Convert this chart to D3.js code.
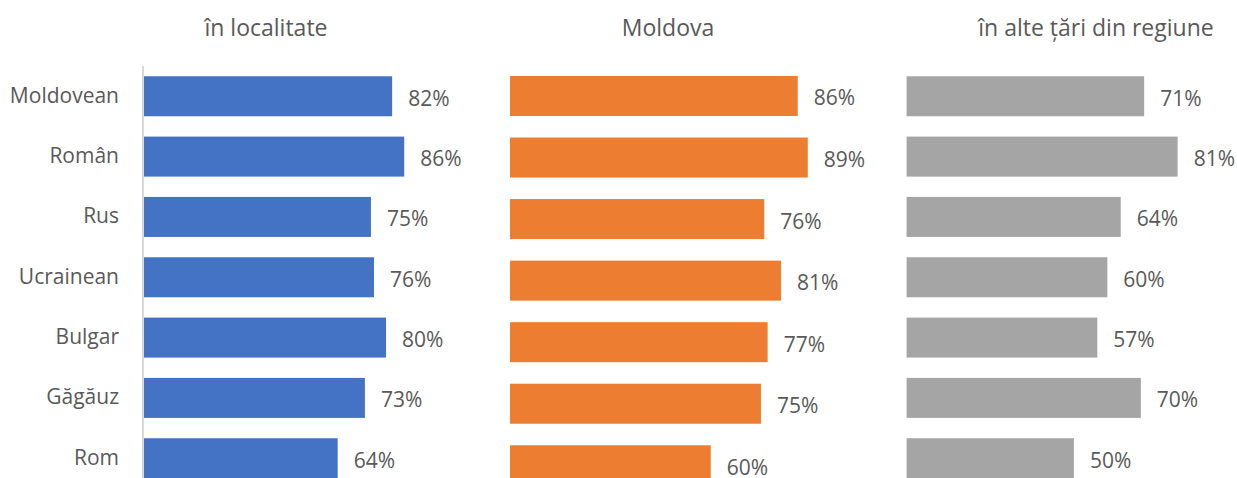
<!DOCTYPE html>
<html>
<head>
<meta charset="utf-8">
<script src="https://cdn.jsdelivr.net/npm/d3@7"></script>
<style>
  html, body { margin: 0; padding: 0; background: #fff; }
  svg text { font-family: "Open Sans", "Noto Sans", sans-serif; fill: #595959; }
</style>
</head>
<body>
<svg id="chart" width="1237" height="478"></svg>
<script>
const categories = ["Moldovean", "Român", "Rus", "Ucrainean", "Bulgar", "Găgăuz", "Rom"];
const localValues = [82, 86, 75, 76, 80, 73, 64];
const moldovaValues = [86, 89, 76, 81, 77, 75, 60];
const regionValues = [71, 81, 64, 60, 57, 70, 50];
const panelTitles = ["în localitate", "Moldova", "în alte țări din regiune"];
const panelColors = ["#4472C4", "#ED7D31", "#A5A5A5"];

const svg = d3.select("#chart");

const panels = [
  { title: panelTitles[0], values: localValues, color: panelColors[0],
    x0: 144, pxPer: 3.026, y0: 66.1, step: 60.33, pad: 0.337, titleX: 266, axis: true },
  { title: panelTitles[1], values: moldovaValues, color: panelColors[1],
    x0: 510, pxPer: 3.346, y0: 65.2, step: 61.55, pad: 0.35, titleX: 668, axis: false },
  { title: panelTitles[2], values: regionValues, color: panelColors[2],
    x0: 906.6, pxPer: 3.346, y0: 66.1, step: 60.33, pad: 0.337, titleX: 1096, axis: false }
];

panels.forEach((p, pi) => {
  const x = d3.scaleLinear().domain([0, 100]).range([p.x0, p.x0 + 100 * p.pxPer]);
  const y = d3.scaleBand()
    .domain(categories)
    .range([p.y0, p.y0 + categories.length * p.step])
    .paddingInner(p.pad)
    .paddingOuter(p.pad / 2);

  const g = svg.append("g");

  // title
  g.append("text")
    .attr("x", p.titleX)
    .attr("y", 36)
    .attr("text-anchor", "middle")
    .style("font-size", "23px")
    .text(p.title);

  // bars
  g.selectAll("rect.bar")
    .data(categories.map((c, i) => ({ c, v: p.values[i] })))
    .join("rect")
    .attr("class", "bar")
    .attr("x", x(0))
    .attr("y", d => y(d.c))
    .attr("width", d => x(d.v) - x(0))
    .attr("height", y.bandwidth())
    .attr("fill", p.color);

  // value labels
  g.selectAll("text.val")
    .data(categories.map((c, i) => ({ c, v: p.values[i] })))
    .join("text")
    .attr("class", "val")
    .attr("x", d => x(d.v) + 16)
    .attr("y", d => y(d.c) + y.bandwidth() / 2 + 1.5)
    .attr("dominant-baseline", "central")
    .style("font-size", "21px")
    .text(d => d.v + "%");

  if (p.axis) {
    const axis = d3.axisLeft(y).tickSize(0).tickPadding(24);
    const ag = g.append("g")
      .attr("transform", `translate(${x(0) - 1},0)`)
      .call(axis);
    ag.select(".domain")
      .attr("d", `M0,${p.y0}V478`)
      .attr("stroke", "#d9d9d9")
      .attr("stroke-width", 2);
    ag.selectAll(".tick text")
      .style("font-size", "21px")
      .style("font-family", '"Open Sans", "Noto Sans", sans-serif')
      .attr("fill", "#595959")
      .attr("dy", "0.3em");
  }
});
</script>
</body>
</html>
